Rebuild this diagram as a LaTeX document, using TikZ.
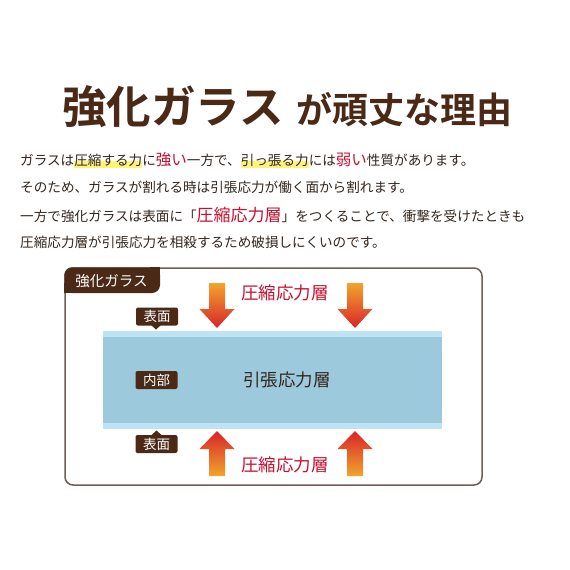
\documentclass[tikz,border=0pt]{standalone}
\usepackage{fontspec}
\setmainfont{Noto Sans CJK JP}
\newfontfamily\jpbold{Noto Sans CJK JP}[UprightFont={* Bold}]
\usetikzlibrary{positioning}
\definecolor{brownT}{HTML}{4A2A17}
\definecolor{textC}{HTML}{33261E}
\definecolor{redC}{HTML}{C8102E}
\definecolor{frameC}{HTML}{6E5E55}
\definecolor{bandC}{HTML}{9CC9DC}
\definecolor{lightC}{HTML}{BDE3F4}
\definecolor{hlC}{HTML}{FFF27A}
\definecolor{arTop}{HTML}{F2A52C}
\definecolor{arBot}{HTML}{D8242A}
\newcommand\hlmark[1]{\setbox0\hbox{#1}\rlap{\textcolor{hlC}{\rule[-2.5bp]{\wd0}{6.5bp}}}\box0}
\newcommand\redtxt[1]{{\color{redC}\fontsize{15.5bp}{16bp}\selectfont #1}}
\begin{document}
\begin{tikzpicture}[x=1bp,y=-1bp,
  body/.style={anchor=west,inner sep=0pt,text=textC,font=\fontsize{13.6bp}{16bp}\selectfont},
  tag/.style={fill=brownT,text=white,rounded corners=2bp,inner sep=0pt,minimum width=42bp,minimum height=18bp,font=\fontsize{13.5bp}{14bp}\selectfont},
  redlbl/.style={inner sep=0pt,text=redC,font=\fontsize{17.5bp}{18bp}\selectfont},
]
\useasboundingbox (0,0) rectangle (570,570);
% title
\node[anchor=base west,inner sep=0pt,text=brownT,font=\jpbold\fontsize{44.5bp}{45bp}\selectfont] (t1) at (62,124) {強化ガラス};
\node[anchor=base west,inner sep=0pt,text=brownT,font=\jpbold\fontsize{36bp}{37bp}\selectfont] (t2) at ([xshift=12bp]t1.base east) {が頑丈な理由};
% body
\node[body] (l1) at (20,160) {ガラスは\hlmark{圧縮する力}に\redtxt{強い}一方で、\hlmark{引っ張る力}には\redtxt{弱い}性質があります。};
\node[body] (l2) at (20,187.5) {そのため、ガラスが割れる時は引張応力が働く面から割れます。};
\node[body] (l3) at (20,215) {一方で強化ガラスは表面に「\textcolor{redC}{\fontsize{17bp}{18bp}\selectfont 圧縮応力層}」をつくることで、衝撃を受けたときも};
\node[body] (l4) at (20,242) {圧縮応力層が引張応力を相殺するため破損しにくいのです。};
% frame
\draw[frameC,line width=1.5bp,rounded corners=8bp] (65,268) rectangle (482,485);
\fill[brownT,rounded corners=8bp] (64.25,267.25) rectangle (160,293);
\fill[brownT] (150,267.25) rectangle (160,277);
\fill[brownT] (64.25,283) rectangle (74,293);
\node[inner sep=0pt,text=white,font=\fontsize{14.5bp}{15bp}\selectfont] (tab) at (111.5,281) {強化ガラス};
% glass
\fill[lightC] (103,331) rectangle (442,429);
\fill[bandC] (103,337) rectangle (442,423);
\node[inner sep=0pt,text=textC,font=\fontsize{17.5bp}{18bp}\selectfont] (inner) at (287,380) {引張応力層};
% tags
\node[tag] (sTop) at (157,316.5) {表面};
\fill[brownT] (151,325) -- (161,325) -- (156,329.5) -- cycle;
\node[tag] (naibu) at (156.5,380) {内部};
\node[tag] (sBot) at (156.5,444) {表面};
\fill[brownT] (151.5,435) -- (161.5,435) -- (156.5,430.5) -- cycle;
% arrows
\foreach \cx in {217,355}{
  \shade[top color=arTop,bottom color=arBot] (\cx-8,283) -- (\cx+8,283) -- (\cx+8,309) -- (\cx+17.5,309) -- (\cx,328) -- (\cx-17.5,309) -- (\cx-8,309) -- cycle;
  \shade[top color=arBot,bottom color=arTop] (\cx-8,476) -- (\cx+8,476) -- (\cx+8,449) -- (\cx+17.5,449) -- (\cx,431) -- (\cx-17.5,449) -- (\cx-8,449) -- cycle;
}
\node[redlbl] (cTop) at (285,293) {圧縮応力層};
\node[redlbl] (cBot) at (285,465) {圧縮応力層};
\end{tikzpicture}
\end{document}
